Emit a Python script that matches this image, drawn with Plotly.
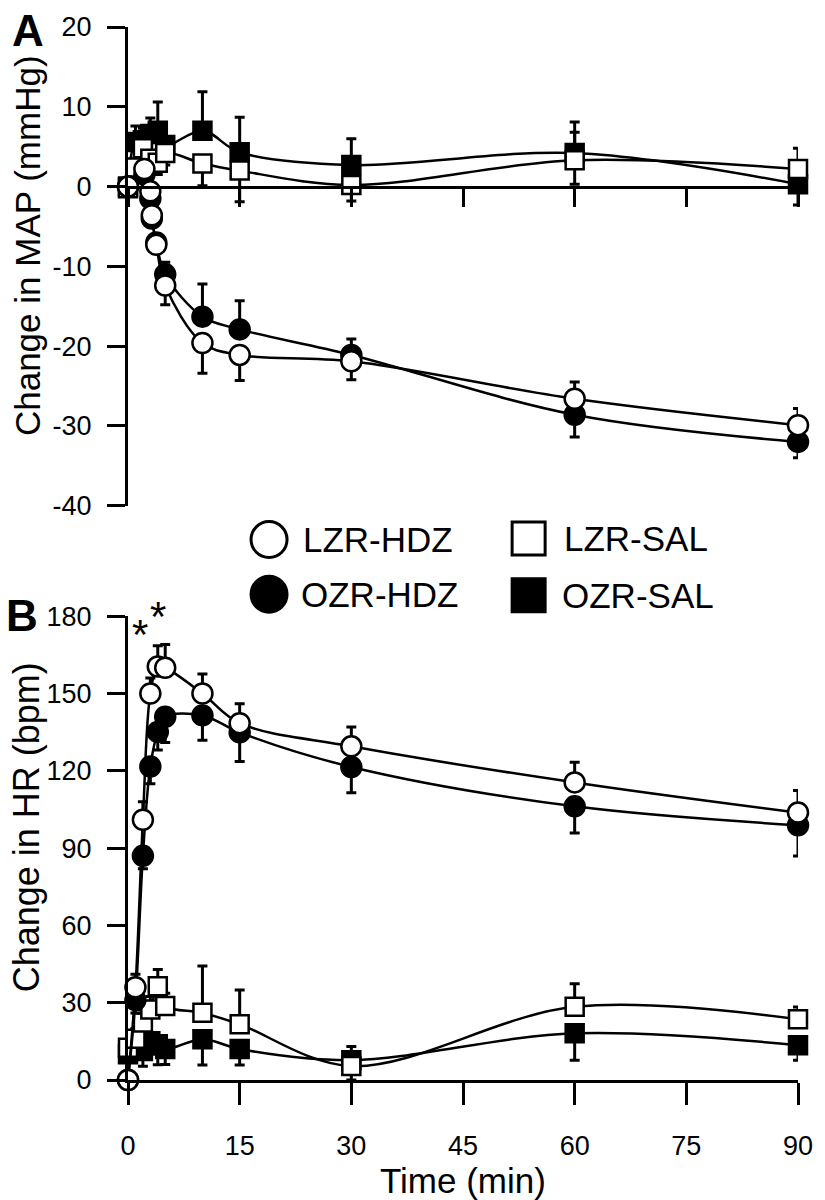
import plotly.graph_objects as go

# ---------------- data ----------------
# Panel A: change in MAP (mmHg)
time_map_hdz = [0, 2.2, 3, 3.2, 3.8, 5, 10, 15, 30, 60, 90]
map_lzr_hdz = [0, 2.2, -0.6, -3.6, -7.3, -12.4, -19.6, -21.1, -21.9, -26.6, -29.9]
map_lzr_hdz_up = [0, 0, 0, 0, 0, 0, 0, 0, 0, 2.1, 2.1]
map_lzr_hdz_dn = [0, 0.8, 0.8, 0.8, 1.0, 2.4, 3.8, 3.2, 2.3, 0, 0]
map_ozr_hdz = [0, 1.5, -1.5, -4.0, -7.0, -11.0, -16.3, -17.9, -21.1, -28.6, -32.0]
map_ozr_hdz_up = [0, 0.8, 0.8, 1.0, 1.0, 1.5, 4.1, 3.6, 2.0, 0, 0]
map_ozr_hdz_dn = [0, 0, 0, 0, 0, 0, 0, 0, 0, 2.8, 2.0]

time_sal = [0, 1, 2, 3, 4, 5, 10, 15, 30, 60, 90]
map_lzr_sal = [-0.2, 2.4, 4.8, 3.5, 3.0, 4.2, 2.9, 2.0, 0.2, 3.3, 2.2]
map_lzr_sal_up = [0, 0, 0, 0, 0, 0, 0, 0, 0, 3.5, 2.6]
map_lzr_sal_dn = [0.5, 1.0, 1.2, 1.2, 1.5, 1.5, 2.8, 3.9, 2.0, 3.0, 0]
map_ozr_sal = [0, 5.6, 5.8, 6.6, 7.0, 5.2, 7.0, 4.3, 2.7, 4.2, 0.3]
map_ozr_sal_up = [0, 2.0, 1.5, 2.0, 3.6, 1.0, 4.9, 4.4, 3.3, 3.9, 0]
map_ozr_sal_dn = [0, 0, 0, 0, 0, 0, 0, 0, 0, 0, 2.6]

# Panel B: change in HR (bpm)
time_hr = [0, 1, 2, 3, 4, 5, 10, 15, 30, 60, 90]
hr_lzr_hdz = [0, 36, 101, 150, 160.5, 160, 150, 138.5, 129.5, 115.5, 103.8]
hr_lzr_hdz_up = [0, 5, 7, 6, 8, 9, 7.6, 7.5, 7.5, 7.8, 8.6]
hr_lzr_hdz_dn = [0, 0, 0, 0, 0, 0, 0, 0, 0, 0, 0]
hr_ozr_hdz = [0, 31, 87, 121.7, 135.1, 141, 141.5, 134.9, 121.5, 106.2, 98.9]
hr_ozr_hdz_up = [0, 0, 0, 0, 0, 0, 0, 0, 0, 0, 0]
hr_ozr_hdz_dn = [0, 5, 5, 6.7, 7, 10, 9.6, 11.3, 10, 10.3, 12]
hr_lzr_sal = [12.5, 16, 22.3, 27.4, 36.4, 28.7, 26.1, 21.6, 5.4, 28.4, 23.6]
hr_lzr_sal_up = [3, 4, 5, 5, 6.5, 5, 18.1, 13.3, 0, 9, 4.7]
hr_lzr_sal_dn = [0, 0, 0, 0, 0, 0, 0, 0, 5.4, 0, 0]
hr_ozr_sal = [10, 13, 11.3, 15, 13.9, 12, 15.8, 12, 7.7, 18.1, 13.5]
hr_ozr_sal_up = [0, 0, 0, 0, 0, 0, 0, 0, 5.3, 0, 0]
hr_ozr_sal_dn = [3, 5, 6, 5, 8, 6, 10, 6.2, 0, 10.4, 5.8]

sig_times = [1.6, 4.0]
sig_hr = [173, 180]

x_ticks = [0, 15, 30, 45, 60, 75, 90]
map_ticks = [-40, -30, -20, -10, 0, 10, 20]
hr_ticks = [0, 30, 60, 90, 120, 150, 180]

legend_names = ["LZR-HDZ", "LZR-SAL", "OZR-HDZ", "OZR-SAL"]

# ---------------- layout geometry ----------------
W, H = 825, 1200
ML, MR, MT, MB = 128, 13, 22, 120
PW, PH = W - ML - MR, H - MT - MB


def px_x(px):
    return (px - ML) / PW


def px_y(py):
    return (H - MB - py) / PH


top_dom = [px_y(503), 1.0]
bot_dom = [0.0, px_y(614)]
map_range = [map_ticks[0], map_ticks[-1]]
zero_pos = top_dom[0] + (0 - map_range[0]) / (map_range[1] - map_range[0]) * (top_dom[1] - top_dom[0])

FONT = "Liberation Sans, Arial, Helvetica, sans-serif"

fig = go.Figure()


def add(x, y, up, dn, symbol, filled, xa, ya, size):
    fig.add_trace(go.Scatter(
        x=x, y=y, mode="lines+markers",
        line=dict(color="black", width=2.5, shape="spline", smoothing=1.0),
        marker=dict(symbol=symbol, size=size, color="black" if filled else "white",
                    line=dict(color="black", width=2.5)),
        error_y=dict(type="data", symmetric=False, array=up, arrayminus=dn,
                     color="black", thickness=3, width=5),
        cliponaxis=False, showlegend=False, xaxis=xa, yaxis=ya))


# panel A
add(time_sal, map_ozr_sal, map_ozr_sal_up, map_ozr_sal_dn, "square", True, "x", "y", 18)
add(time_sal, map_lzr_sal, map_lzr_sal_up, map_lzr_sal_dn, "square", False, "x", "y", 18)
add(time_map_hdz, map_ozr_hdz, map_ozr_hdz_up, map_ozr_hdz_dn, "circle", True, "x", "y", 20)
add(time_map_hdz, map_lzr_hdz, map_lzr_hdz_up, map_lzr_hdz_dn, "circle", False, "x", "y", 20)
# panel B
add(time_hr, hr_ozr_sal, hr_ozr_sal_up, hr_ozr_sal_dn, "square", True, "x2", "y2", 18)
add(time_hr, hr_lzr_sal, hr_lzr_sal_up, hr_lzr_sal_dn, "square", False, "x2", "y2", 18)
add(time_hr, hr_ozr_hdz, hr_ozr_hdz_up, hr_ozr_hdz_dn, "circle", True, "x2", "y2", 20)
add(time_hr, hr_lzr_hdz, hr_lzr_hdz_up, hr_lzr_hdz_dn, "circle", False, "x2", "y2", 20)

axis_common = dict(showgrid=False, zeroline=False, showline=True, linecolor="black",
                   linewidth=3, ticks="outside", tickcolor="black", tickwidth=3,
                   tickfont=dict(family=FONT, size=27, color="black"),
                   ticklabeloverflow="allow")

fig.update_layout(
    width=W, height=H, margin=dict(l=ML, r=MR, t=MT, b=MB),
    paper_bgcolor="white", plot_bgcolor="white", showlegend=False,
    xaxis=dict(axis_common, domain=[0, 1], range=[x_ticks[0], x_ticks[-1]],
               anchor="free", position=zero_pos, tickvals=x_ticks,
               showticklabels=False, ticklen=18),
    yaxis=dict(axis_common, domain=top_dom, range=map_range, anchor="x",
               tickvals=map_ticks, ticktext=[str(v) for v in map_ticks],
               ticklen=18, ticklabelstandoff=10),
    xaxis2=dict(axis_common, domain=[0, 1], range=[x_ticks[0], x_ticks[-1]],
                anchor="y2", tickvals=x_ticks, ticktext=[str(v) for v in x_ticks],
                ticklen=22, ticklabelstandoff=18),
    yaxis2=dict(axis_common, domain=bot_dom, range=[hr_ticks[0], hr_ticks[-1]],
                anchor="x2", tickvals=hr_ticks, ticktext=[str(v) for v in hr_ticks],
                ticklen=18, ticklabelstandoff=10),
)

annotations = [
    dict(text="Change in MAP (mmHg)", x=px_x(26), y=px_y(242), textangle=-90, size=35),
    dict(text="Change in HR (bpm)", x=px_x(24), y=px_y(826), textangle=-90, size=36),
    dict(text="Time (min)", x=0.5, y=px_y(1181), textangle=0, size=35),
]
for a in annotations:
    size = a.pop("size")
    a.update(xref="paper", yref="paper", showarrow=False, xanchor="center", yanchor="middle",
             font=dict(family=FONT, size=size, color="black"))
    fig.add_annotation(**a)

for letter, lx, ly in [("A", 26, 26), ("B", 20, 613)]:
    fig.add_annotation(text=f"<b>{letter}</b>", x=px_x(lx), y=px_y(ly), xref="paper", yref="paper",
                       showarrow=False, xanchor="center", yanchor="middle",
                       font=dict(family=FONT, size=44, color="black"))

for t, v in zip(sig_times, sig_hr):
    fig.add_annotation(text="*", x=t, y=v, xref="x2", yref="y2", showarrow=False,
                       xanchor="center", yanchor="middle",
                       font=dict(family=FONT, size=42, color="black"))

# manual legend (large symbols)
legend_keys = [
    (legend_names[0], "circle", False, 272, 537, 305),
    (legend_names[1], "rect", False, 537, 536, 571),
    (legend_names[2], "circle", True, 272, 592, 303),
    (legend_names[3], "rect", True, 537, 593, 569),
]
for name, kind, filled, cx, cy, tx in legend_keys:
    half = 18 if kind == "circle" else 16.5
    fig.add_shape(type=kind, xref="paper", yref="paper", xsizemode="pixel", ysizemode="pixel",
                  xanchor=px_x(cx), yanchor=px_y(cy), x0=-half, x1=half, y0=-half, y1=half,
                  line=dict(color="black", width=3), fillcolor="black" if filled else "white")
    fig.add_annotation(text=name, x=px_x(tx), y=px_y(cy), xref="paper", yref="paper",
                       showarrow=False, xanchor="left", yanchor="middle",
                       font=dict(family=FONT, size=35, color="black"))

fig.write_html("out.html", config={"displayModeBar": False},
               post_script="document.body.style.margin='0';document.body.style.padding='0';")
